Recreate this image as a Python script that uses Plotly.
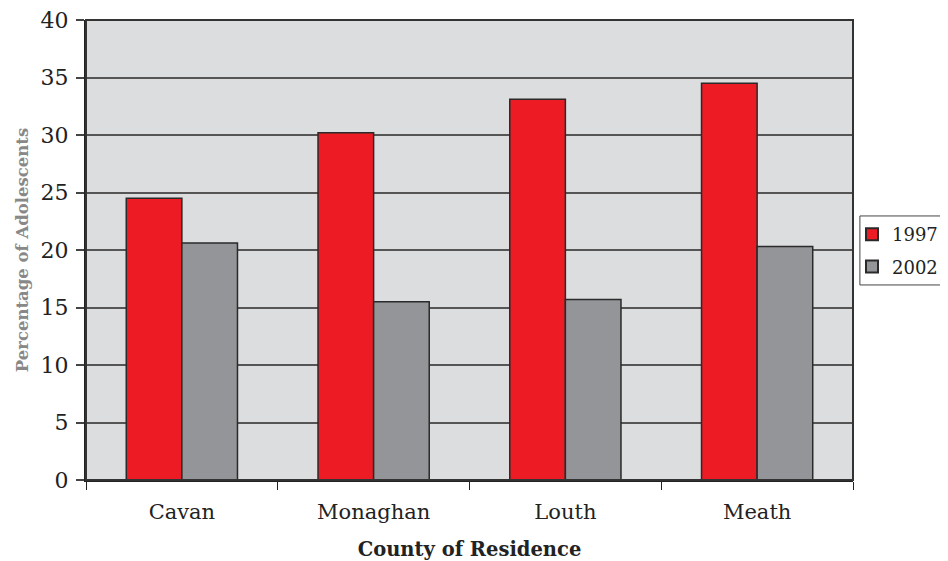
import plotly.graph_objects as go

counties = ["Cavan", "Monaghan", "Louth", "Meath"]
vals_1997 = [24.5, 30.2, 33.1, 34.5]
vals_2002 = [20.6, 15.5, 15.7, 20.3]
y_ticks = [0, 5, 10, 15, 20, 25, 30, 35, 40]

font_fam = "DejaVu Serif"

fig = go.Figure()
fig.add_trace(go.Bar(name="1997", x=counties, y=vals_1997, legendgroup="a",
                     marker=dict(color="#ED1C24", line=dict(color="#2a2a2a", width=1.5))))
fig.add_trace(go.Bar(name="2002", x=counties, y=vals_2002, legendgroup="b",
                     marker=dict(color="#939598", line=dict(color="#2a2a2a", width=1.5))))

fig.update_layout(
    width=940, height=553,
    margin=dict(l=78, r=95, t=12, b=81, autoexpand=False),
    barmode="group", bargap=0.42, bargroupgap=0,
    plot_bgcolor="#DCDDDF", paper_bgcolor="white",
    font=dict(family=font_fam, color="#222", size=20),
    legend=dict(x=0.9987, y=0.574, xanchor="left", yanchor="top",
                borderwidth=0, bgcolor="rgba(0,0,0,0)",
                font=dict(size=18, family=font_fam), itemsizing="constant",
                itemwidth=30, tracegroupgap=6),
    xaxis=dict(title=dict(text="<b>County of Residence</b>", font=dict(size=19.5, family=font_fam, color="#222"), standoff=19),
               automargin=False,
               showline=True, linecolor="#222", linewidth=2, mirror=False,
               ticks="outside", tickson="boundaries", ticklen=8, tickcolor="#222", tickwidth=1,
               ticklabelstandoff=12,
               tickfont=dict(size=21, family=font_fam, color="#222")),
    yaxis=dict(title=dict(text="<b>Percentage of Adolescents</b>", font=dict(size=16.5, family=font_fam, color="#888"), standoff=8),
               automargin=False,
               range=[0, 40], tickvals=y_ticks, showline=True, linecolor="#222", linewidth=2,
               ticks="outside", ticklen=8, tickcolor="#444", tickwidth=1.5,
               ticklabelstandoff=3, ticklabeloverflow="allow",
               gridcolor="#555", gridwidth=2, zeroline=False,
               tickfont=dict(size=22, family=font_fam, color="#222")),
)
fig.add_shape(type="rect", xref="paper", yref="paper", x0=0, y0=0, x1=1, y1=1,
              line=dict(color="#333", width=2), layer="above")
# legend frame (extends past the right edge as in the reference)
fig.add_shape(type="rect", xref="paper", yref="paper", x0=1.009, y0=0.424, x1=1.2, y1=0.574,
              line=dict(color="#444", width=1), fillcolor="white", layer="below")

fig.write_html("out.html")
